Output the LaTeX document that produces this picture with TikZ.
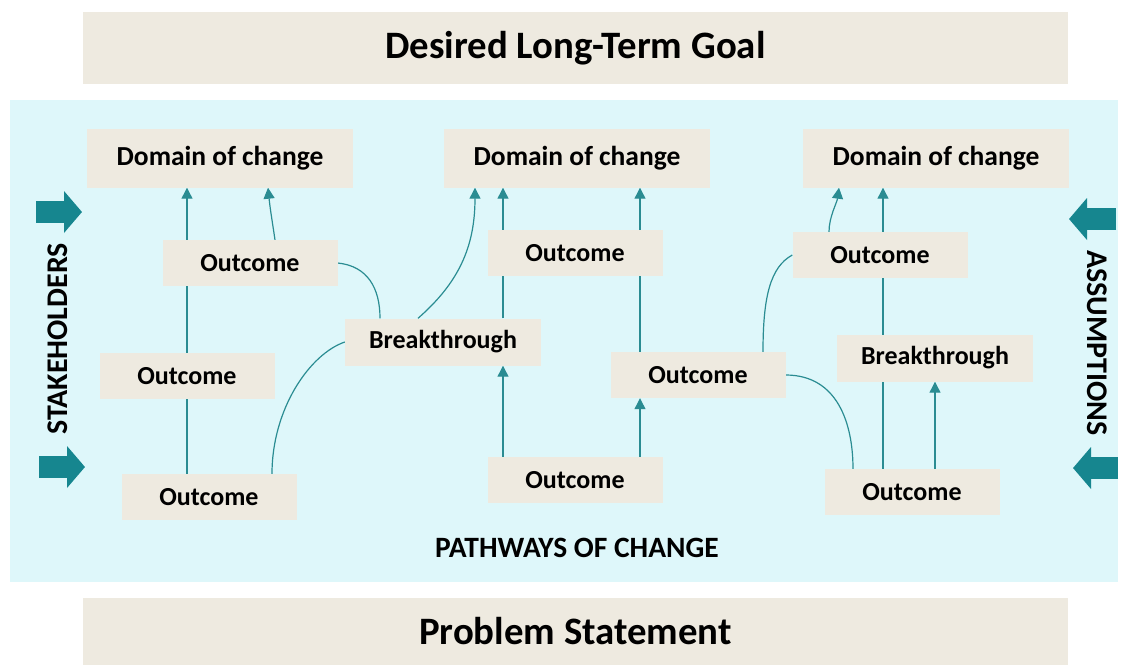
\documentclass[tikz,border=0pt]{standalone}
\usepackage{fontspec}
\setmainfont{Carlito}
\usepackage{tikz}
\usetikzlibrary{positioning,calc,arrows.meta,backgrounds}

\definecolor{boxbeige}{RGB}{238,234,224}
\definecolor{paleblue}{RGB}{222,247,250}
\definecolor{linkteal}{RGB}{42,140,146}
\definecolor{sideteal}{RGB}{22,134,143}

\begin{document}
\begin{tikzpicture}[x=1pt,y=-1pt,
    box/.style={fill=boxbeige, inner sep=0pt, font=\fontsize{26}{30}\selectfont\bfseries},
    band/.style={box, minimum width=985pt, font=\fontsize{38.8}{42}\selectfont\bfseries},
    domainbox/.style={box, minimum width=266pt, minimum height=59pt, font=\fontsize{27.5}{31}\selectfont\bfseries},
    outcome/.style={box, minimum width=175pt, minimum height=46pt},
    breakthru/.style={box, minimum width=196pt, minimum height=47pt},
    link/.style={draw=linkteal, line width=1.2pt},
    linkarrow/.style={link, -{Triangle[length=11pt,width=11pt]}},
    sidearrow/.style={draw=sideteal, line width=22pt, -{Triangle[length=18pt,width=41pt]}},
    sidelabel/.style={font=\fontsize{30}{33}\selectfont\bfseries}]
    \useasboundingbox (0,0) rectangle (1128,665);

    % goal and problem bands
    \node[band, minimum height=72pt] (goal) at (575.5,48) {Desired Long-Term Goal};
    \node[band, minimum height=67pt] (problem) at (575.5,631.5) {Problem Statement};
    \begin{scope}[on background layer]
        \fill[paleblue] (10,100) rectangle (1118,582);
    \end{scope}

    % domains of change
    \node[domainbox] (domL) at (220,158) {Domain of change};
    \node[domainbox] (domM) at (577,158) {Domain of change};
    \node[domainbox] (domR) at (936,158) {Domain of change};

    % left pathway
    \node[outcome] (outA) at (250,263) {Outcome};
    \node[outcome] (outB) at (187,376) {Outcome};
    \node[outcome] (outC) at (209,497) {Outcome};
    \node[breakthru] (brkL) at (443,342) {Breakthrough};

    % middle pathway
    \node[outcome] (outD) at (575,253) {Outcome};
    \node[outcome] (outE) at (698,375) {Outcome};
    \node[outcome] (outF) at (575,480) {Outcome};

    % right pathway
    \node[outcome] (outG) at (880,255) {Outcome};
    \node[breakthru] (brkR) at (935,358) {Breakthrough};
    \node[outcome] (outH) at (912,492) {Outcome};

    % side labels
    \node[sidelabel, rotate=90] (stake) at (58,339) {STAKEHOLDERS};
    \node[sidelabel, rotate=-90] (assume) at (1097,343) {ASSUMPTIONS};
    \node[sidelabel, font=\fontsize{29.5}{32}\selectfont\bfseries] (pathways) at (577,548) {PATHWAYS OF CHANGE};

    \draw[sidearrow] (36,212) -- (82,212);
    \draw[sidearrow] (39,467) -- (85,467);
    \draw[sidearrow] (1116,219) -- (1069,219);
    \draw[sidearrow] (1118,468) -- (1073,468);

    % connectors
    \coordinate (cA) at ([xshift=25pt]outA.north);
    \coordinate (dL) at ([xshift=48pt]domL.south);
    \coordinate (cCr) at ([xshift=63pt]outC.north);
    \coordinate (bLt) at ([xshift=-63pt]brkL.north);
    \coordinate (bLr) at ([xshift=60pt]brkL.north);
    \coordinate (dM) at ([xshift=-102pt]domM.south);
    \coordinate (fL) at ([xshift=-72pt]outF.north);
    \coordinate (eL) at ([xshift=-58pt]outE.north);
    \coordinate (eT) at ([xshift=65pt]outE.north);
    \coordinate (gT) at ([xshift=-51pt]outG.north);
    \coordinate (dR) at ([xshift=-97pt]domR.south);
    \coordinate (hL) at ([xshift=-29pt]outH.north);
    \coordinate (hT) at ([xshift=-59pt]outH.north);
    \begin{scope}[on background layer]
        % left
        \draw[link] (outC.north -| outB) -- (outB.south);
        \draw[linkarrow] (outB.north) -- (outB.north |- domL.south);
        \draw[linkarrow] (cA) .. controls +(-3,-20) and +(2,20) .. (dL);
        \draw[link] (outA.east) .. controls +(30,3) and +(0,-30) .. (bLt);
        \draw[link] (cCr) .. controls +(0,-65) and +(-35,12) .. (brkL.west);
        \draw[linkarrow] ([xshift=-25pt]brkL.north) .. controls +(40,-35) and +(0,60) .. (dM);
        % middle
        \draw[linkarrow] (fL) -- (fL |- brkL.south);
        \draw[linkarrow] (bLr) -- (bLr |- domM.south);
        \draw[linkarrow] (eL |- outF.north) -- (eL |- outE.south);
        \draw[linkarrow] (eL) -- (eL |- domM.south);
        \draw[link] (eT) .. controls +(0,-55) and +(-22,12) .. (outG.west);
        \draw[link] (outE.east) .. controls +(52,0) and +(0,-45) .. (hT);
        % right
        \draw[linkarrow] (gT) .. controls +(0,-15) and +(-2,15) .. (dR);
        \draw[linkarrow] (hL) -- (hL |- domR.south);
        \draw[linkarrow] (brkR.south |- outH.north) -- (brkR.south);
    \end{scope}
\end{tikzpicture}
\end{document}
